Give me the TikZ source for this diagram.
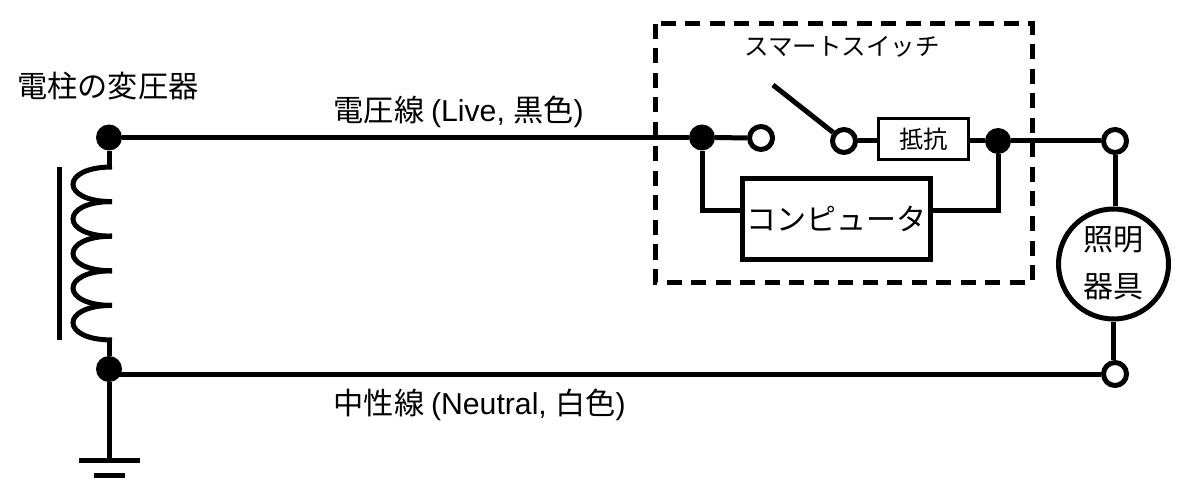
\documentclass[tikz,border=0pt]{standalone}
\usepackage{fontspec}
\setmainfont{Liberation Sans}
\newfontfamily\cjk{Noto Sans CJK JP}
\usetikzlibrary{calc}
\tikzset{
  wire/.style={black, line width=5},
  dotnode/.style={circle, fill=black, minimum size=26, inner sep=0},
  termnode/.style={circle, draw=black, fill=white, line width=5, minimum size=23, inner sep=0},
  label/.style={inner sep=0, font=\fontsize{30.2}{35}\selectfont},
}
\begin{document}
\begin{tikzpicture}[x=1pt, y=-1pt]
\useasboundingbox (0,0) rectangle (1190,494);
% dashed case
\draw[black, line width=5, dash pattern=on 15 off 9.5] (655,24) rectangle (1032,282);
% nodes
\node[dotnode] (topdot) at (109,137.5) {};
\node[dotnode] (botdot) at (109,369) {};
\node[dotnode] (leftdot) at (702,137.5) {};
\node[dotnode] (rightdot) at (998,141) {};
\node[termnode] (swa) at (761,138) {};
\node[termnode] (swb) at (844,141) {};
\node[termnode] (topterm) at (1115,141) {};
\node[termnode] (botterm) at (1115,374) {};
\node[draw=black, fill=white, line width=2.5, minimum width=90, minimum height=41, inner sep=0] (res) at (923.5,139) {\cjk\fontsize{24.3}{28}\selectfont 抵抗};
\node[draw=black, fill=white, line width=5, minimum width=188, minimum height=80, inner sep=0] (comp) at (836.5,219) {\cjk\fontsize{30}{35}\selectfont コンピュータ};
\node[circle, draw=black, fill=white, line width=5, minimum size=110, inner sep=0] (lamp) at (1113.5,264) {};
\node[label] (lampa) at (1113.5,240) {\cjk\fontsize{30}{35}\selectfont 照明};
\node[label] (lampb) at (1113.5,287) {\cjk\fontsize{30}{35}\selectfont 器具};
\coordinate (armtip) at (773,85);
\coordinate (coiltop) at (112,167);
\coordinate (coilbot) at (112,340);
\coordinate (gnd) at (109,460);
\coordinate (compy) at (836,210.5);
% wires
\draw[wire] (topdot) -- (leftdot);
\draw[wire] (leftdot) -- (swa);
\draw[wire] (armtip) -- (swb);
\draw[wire] (swb) -- (res.west |- swb);
\draw[wire] (res.east |- rightdot) -- (rightdot);
\draw[wire] (rightdot) -- (topterm);
\draw[wire] (leftdot) |- (comp.west |- compy);
\draw[wire] (rightdot) |- (comp.east |- compy);
\draw[wire] (topterm) -- (topterm |- lamp.north);
\draw[wire] (lamp.south) -- (lamp.south |- botterm.north);
\draw[wire] (botdot.center |- botterm) -- (botterm);
\draw[wire] (topdot) -- (topdot |- coiltop) -- (coiltop);
\draw[wire] (botdot) -- (botdot |- coilbot) -- (coilbot);
\draw[wire] (botdot) -- (gnd);
% coil and core
\foreach \i in {0,...,4} {
 \draw[wire] ($(coiltop)+(0,\i*34.6)$) .. controls ($(coiltop)+(-52,\i*34.6)$) and ($(coiltop)+(-52,\i*34.6+34.6)$) .. ($(coiltop)+(0,\i*34.6+34.6)$);
}
\draw[wire] ($(coiltop)+(-53,0)$) -- ($(coilbot)+(-53,0)$);
% ground
\draw[wire] ($(gnd)+(-30,0)$) -- ($(gnd)+(31,0)$);
\draw[wire] ($(gnd)+(-15,15)$) -- ($(gnd)+(16,15)$);
% labels
\node[label, anchor=west] (xfmr) at (17,86) {\cjk 電柱の変圧器};
\node[label, anchor=west] (live) at (333.5,112) {\cjk 電圧線 \rmfamily(Live, \cjk 黒色\rmfamily)};
\node[label, anchor=west] (neut) at (333.5,405) {\cjk 中性線 \rmfamily(Neutral, \cjk 白色\rmfamily)};
\node[label, anchor=center, font=\fontsize{24.5}{29}\selectfont] (smart) at (842,47) {\cjk スマートスイッチ};
\end{tikzpicture}
\end{document}
